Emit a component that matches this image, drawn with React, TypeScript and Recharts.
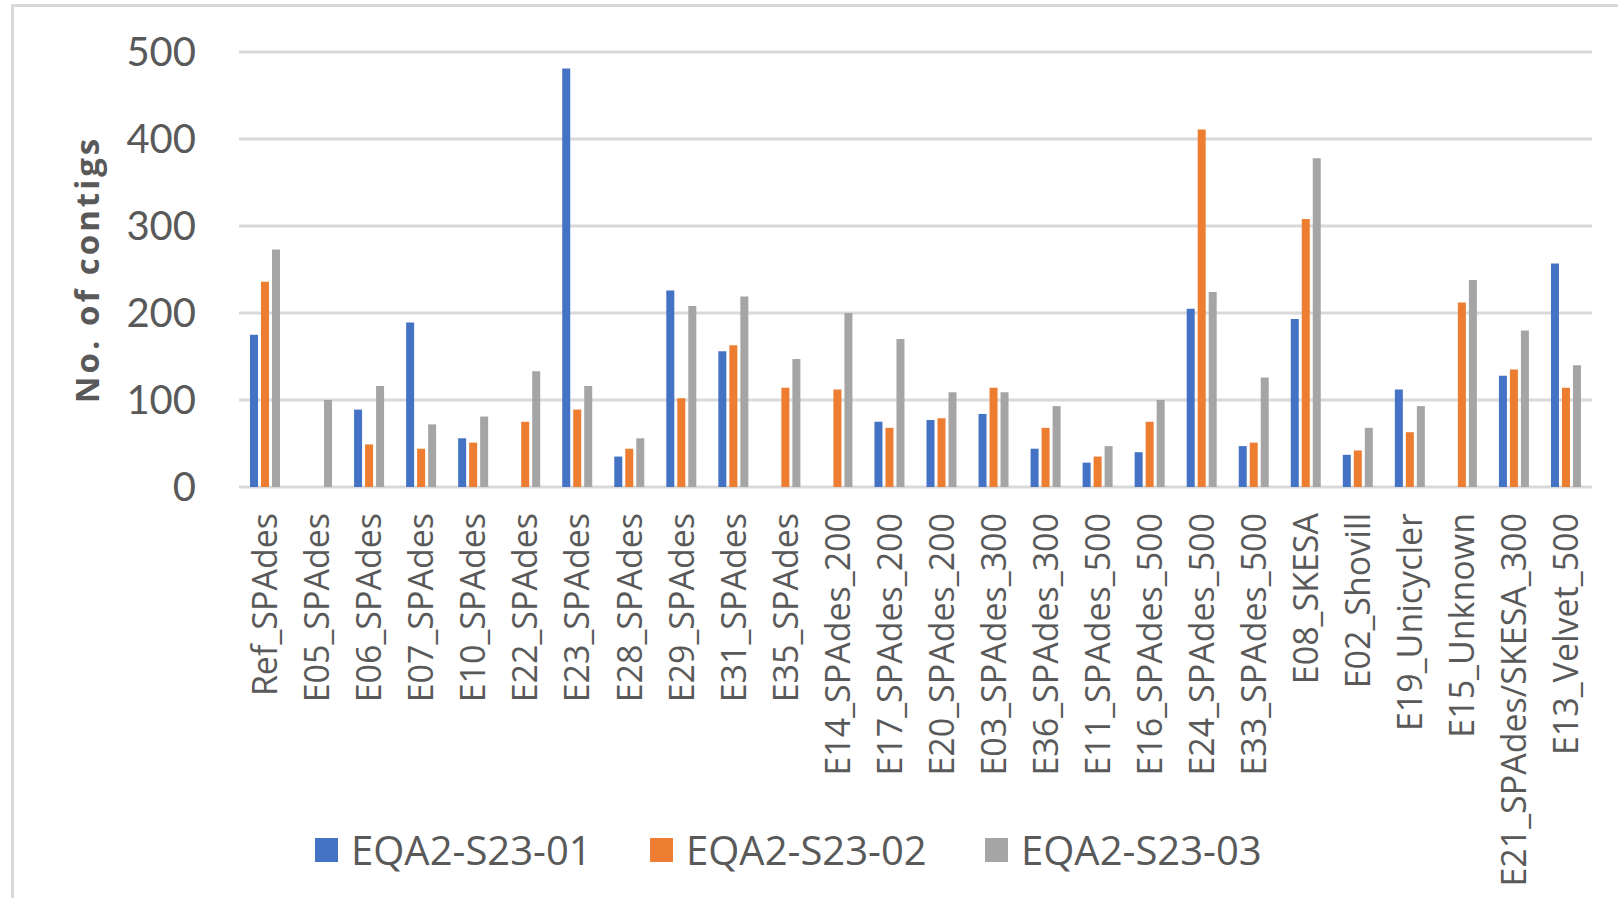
import React from 'react';
import { BarChart, Bar, XAxis, YAxis, CartesianGrid, Legend, Label } from 'recharts';

const categories = [
  'Ref_SPAdes', 'E05_SPAdes', 'E06_SPAdes', 'E07_SPAdes', 'E10_SPAdes', 'E22_SPAdes',
  'E23_SPAdes', 'E28_SPAdes', 'E29_SPAdes', 'E31_SPAdes', 'E35_SPAdes', 'E14_SPAdes_200',
  'E17_SPAdes_200', 'E20_SPAdes_200', 'E03_SPAdes_300', 'E36_SPAdes_300', 'E11_SPAdes_500',
  'E16_SPAdes_500', 'E24_SPAdes_500', 'E33_SPAdes_500', 'E08_SKESA', 'E02_Shovill',
  'E19_Unicycler', 'E15_Unknown', 'E21_SPAdes/SKESA_300', 'E13_Velvet_500',
];

const s01: (number | null)[] = [175, null, 89, 189, 56, null, 481, 35, 226, 156, null, null, 75, 77, 84, 44, 28, 40, 205, 47, 193, 37, 112, null, 128, 257];
const s02: (number | null)[] = [236, null, 49, 44, 51, 75, 89, 44, 102, 163, 114, 112, 68, 79, 114, 68, 35, 75, 411, 51, 308, 42, 63, 212, 135, 114];
const s03: (number | null)[] = [273, 100, 116, 72, 81, 133, 116, 56, 208, 219, 147, 200, 170, 109, 109, 93, 47, 100, 224, 126, 378, 68, 93, 238, 180, 140];

const seriesNames = ['EQA2-S23-01', 'EQA2-S23-02', 'EQA2-S23-03'];
const seriesColors = ['#4472C4', '#ED7D31', '#A5A5A5'];
const yTicks = [0, 100, 200, 300, 400, 500];

const data = categories.map((c, i) => ({ name: c, s01: s01[i], s02: s02[i], s03: s03[i] }));

const TEXT = '#595959';

const XTick = (props: any) => {
  const { x, y, payload } = props;
  return (
    <text
      x={x}
      y={y}
      transform={`rotate(-90 ${x} ${y})`}
      textAnchor="end"
      dy="0.36em"
      fill={TEXT}
      fontSize={34}
      fontFamily="'Open Sans', sans-serif"
    >
      {payload.value}
    </text>
  );
};

const YTitle = (props: any) => {
  const vb = props.viewBox || { x: 0, y: 52, width: 239, height: 434 };
  const cx = 99;
  const cy = vb.y + vb.height / 2;
  return (
    <text
      x={cx}
      y={cy}
      transform={`rotate(-90 ${cx} ${cy})`}
      textAnchor="middle"
      fill={TEXT}
      fontSize={33}
      fontWeight={700}
      letterSpacing={3}
      fontFamily="'Open Sans', sans-serif"
    >
      No. of contigs
    </text>
  );
};

const LegendContent = (props: any) => {
  const payload = props.payload || [];
  return (
    <div style={{ display: 'flex', flexDirection: 'row', alignItems: 'center' }}>
      {payload.map((p: any, i: number) => (
        <div key={i} style={{ width: 335, display: 'flex', alignItems: 'center' }}>
          <div style={{ width: 23, height: 24, background: p.color, marginRight: 13 }} />
          <span style={{ fontFamily: "'Open Sans', sans-serif", fontSize: 40, color: TEXT, lineHeight: '48px', whiteSpace: 'nowrap' }}>
            {p.value}
          </span>
        </div>
      ))}
    </div>
  );
};

export default function App() {
  return (
    <div style={{ position: 'fixed', left: 0, top: 0, width: 1618, height: 898, overflow: 'hidden', background: '#fff' }}>
      <div
        style={{
          position: 'absolute',
          left: 11,
          top: 4,
          width: 1700,
          height: 1000,
          borderLeft: '3px solid #d9d9d9',
          borderTop: '3px solid #d9d9d9',
        }}
      />
      <div style={{ position: 'absolute', left: 0, top: 0 }}>
        <BarChart
          width={1618}
          height={898}
          data={data}
          margin={{ top: 52, right: 26, bottom: 0, left: 0 }}
          barSize={8}
          barGap={3}
        >
          <CartesianGrid vertical={false} stroke="#d9d9d9" strokeWidth={3} />
          <XAxis
            dataKey="name"
            interval={0}
            height={411}
            axisLine={false}
            tickLine={false}
            tickSize={0}
            tickMargin={26}
            tick={<XTick />}
          />
          <YAxis
            width={239}
            domain={[0, 500]}
            ticks={yTicks}
            axisLine={false}
            tickLine={false}
            tickSize={0}
            tickMargin={43}
            tick={{ fill: TEXT, fontSize: 40, fontFamily: "Lato, sans-serif" }}
          >
            <Label content={<YTitle />} />
          </YAxis>
          <Legend
            layout="horizontal"
            verticalAlign="middle"
            align="center"
            content={<LegendContent />}
            wrapperStyle={{ left: 315, top: 826, width: 1100, height: 48 }}
          />
          <Bar dataKey="s01" name={seriesNames[0]} fill={seriesColors[0]} isAnimationActive={false} />
          <Bar dataKey="s02" name={seriesNames[1]} fill={seriesColors[1]} isAnimationActive={false} />
          <Bar dataKey="s03" name={seriesNames[2]} fill={seriesColors[2]} isAnimationActive={false} />
        </BarChart>
      </div>
    </div>
  );
}
